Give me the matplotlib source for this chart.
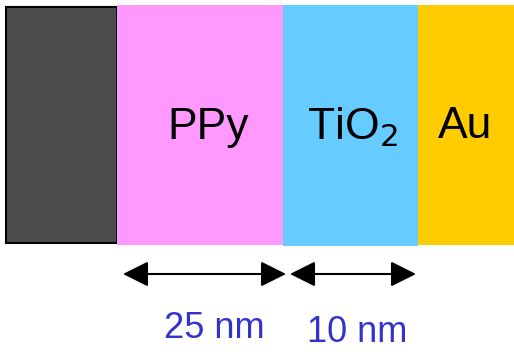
import matplotlib.pyplot as plt
from matplotlib.patches import Rectangle

plt.rcParams['font.family'] = ['Liberation Sans', 'DejaVu Sans']

# Layer stack (left to right)
layers = ['substrate', 'PPy', 'TiO$_2$', 'Au']
layer_labels = ['', 'PPy', 'TiO$_2$', 'Au']
layer_edges = [6, 117, 283, 418, 514]
layer_colors = ['#4d4d4d', '#ff99ff', '#66ccff', '#ffcc00']

# Thickness annotations
thickness = ['25 nm', '10 nm']

fig = plt.figure(figsize=(5.14, 3.55), dpi=100)
ax = fig.add_axes([0, 0, 1, 1])
ax.set_xlim(0, 514)
ax.set_ylim(355, 0)
ax.axis('off')

# Layers
tops = [7, 5, 5, 5]
bottoms = [243, 245, 246, 245]
for i, name in enumerate(layers):
    x0, x1 = layer_edges[i], layer_edges[i + 1]
    ec = 'black' if i == 0 else 'none'
    ax.add_patch(Rectangle((x0, tops[i]), x1 - x0, bottoms[i] - tops[i],
                           facecolor=layer_colors[i], edgecolor=ec, lw=1.5))

# Layer names
label_x = [None, 208, 352, 465]
for i, lab in enumerate(layer_labels):
    if lab:
        ax.text(label_x[i], 127, lab, fontsize=32, ha='center', va='center')

# Thickness arrows + labels
arrow_spans = [(123, 286), (290, 416)]
text_pos = [(214, 328), (357, 333)]
for (a, b), lab, (tx, ty) in zip(arrow_spans, thickness, text_pos):
    ax.annotate('', xy=(a, 274), xytext=(b, 274),
                arrowprops=dict(arrowstyle='<|-|>,head_length=0.6,head_width=0.3',
                                color='black', lw=1.5,
                                mutation_scale=26, shrinkA=0, shrinkB=0))
    ax.text(tx, ty, lab, fontsize=26, color='#3333cc', ha='center', va='center')

fig.savefig('out.png', dpi=100)
